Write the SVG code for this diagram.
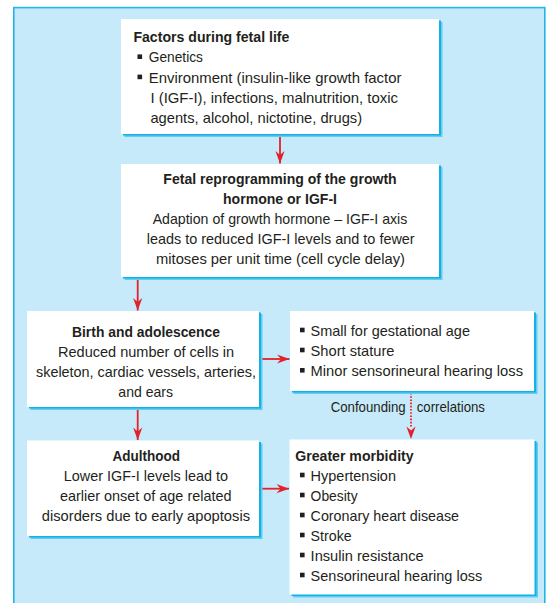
<svg xmlns="http://www.w3.org/2000/svg" width="546" height="603" viewBox="0 0 546 603">
<defs>
<style>
.t{font-family:"Liberation Sans",Arial,Helvetica,sans-serif;font-size:15px;fill:#231f20}
.b{font-weight:bold}
.c{text-anchor:middle}
.box{fill:#fff}
.sh1{fill:#62ccf1}
.sh2{fill:#12b2e8}
.bul{fill:#231f20}
.ln{stroke:#e5202b;stroke-width:1.8;fill:none}
.dot{stroke:#e5202b;stroke-width:1.8;fill:none;stroke-dasharray:1.6 1.6}
</style>
<marker id="ah" markerUnits="userSpaceOnUse" markerWidth="16" markerHeight="12" viewBox="-13 -6 14 12" refX="0" refY="0" orient="auto">
<path d="M0,0 L-12.5,-4.6 L-8.5,0 L-12.5,4.6 Z" fill="#e5202b"/>
</marker>
</defs>
<rect x="13.8" y="7.6" width="531" height="620" fill="#c6eaf9" stroke="#22b5e8" stroke-width="1.6"/>

<g id="connectors">
<line class="ln" x1="280" y1="134" x2="280" y2="163.5" marker-end="url(#ah)"/>
<line class="ln" x1="137.7" y1="280" x2="137.7" y2="310.5" marker-end="url(#ah)"/>
<line class="ln" x1="259.5" y1="359" x2="289.5" y2="359" marker-end="url(#ah)"/>
<line class="ln" x1="137.7" y1="409" x2="137.7" y2="440" marker-end="url(#ah)"/>
<line class="ln" x1="259.5" y1="488.7" x2="289" y2="488.7" marker-end="url(#ah)"/>
<line class="dot" x1="411" y1="393" x2="411" y2="428"/>
<path d="M411,439 L406.4,426.5 L411,430.5 L415.6,426.5 Z" fill="#e5202b"/>
<text class="t" x="330.7" y="412.3" textLength="75" lengthAdjust="spacingAndGlyphs">Confounding</text>
<text class="t" x="416.7" y="412.3" textLength="68.3" lengthAdjust="spacingAndGlyphs">correlations</text>
</g>

<g id="fetal-factors">
<rect class="sh1" x="124.5" y="22" width="318" height="115"/>
<rect class="sh2" x="123" y="20.5" width="318" height="115"/>
<rect class="box" x="121" y="19" width="318" height="115"/>
<text class="t b" x="133.4" y="41.5" textLength="156" lengthAdjust="spacingAndGlyphs">Factors during fetal life</text>
<rect class="bul" x="137.5" y="54.4" width="4.6" height="4.6"/>
<text class="t" x="148.7" y="62" textLength="54.3" lengthAdjust="spacingAndGlyphs">Genetics</text>
<rect class="bul" x="137.5" y="74.6" width="4.6" height="4.6"/>
<text class="t" x="148.7" y="82.7" textLength="252.8" lengthAdjust="spacingAndGlyphs">Environment (insulin-like growth factor</text>
<text class="t" x="150.4" y="102.7" textLength="247.6" lengthAdjust="spacingAndGlyphs">I (IGF-I), infections, malnutrition, toxic</text>
<text class="t" x="150.4" y="122.7" textLength="211.7" lengthAdjust="spacingAndGlyphs">agents, alcohol, nictotine, drugs)</text>
</g>

<g id="reprogramming">
<rect class="sh1" x="124.5" y="167" width="318" height="113"/>
<rect class="sh2" x="123" y="165.5" width="318" height="113"/>
<rect class="box" x="121" y="164" width="318" height="113"/>
<text class="t b c" x="280" y="184.3" textLength="233.3" lengthAdjust="spacingAndGlyphs">Fetal reprogramming of the growth</text>
<text class="t b c" x="280" y="204" textLength="114" lengthAdjust="spacingAndGlyphs">hormone or IGF-I</text>
<text class="t c" x="280" y="224.2" textLength="254.7" lengthAdjust="spacingAndGlyphs">Adaption of growth hormone – IGF-I axis</text>
<text class="t c" x="280.7" y="244.2" textLength="268" lengthAdjust="spacingAndGlyphs">leads to reduced IGF-I levels and to fewer</text>
<text class="t c" x="280.5" y="264" textLength="249" lengthAdjust="spacingAndGlyphs">mitoses per unit time (cell cycle delay)</text>
</g>

<g id="birth">
<rect class="sh1" x="30.5" y="314" width="232" height="96"/>
<rect class="sh2" x="29" y="312.5" width="232" height="96"/>
<rect class="box" x="27" y="311" width="232" height="96"/>
<text class="t b c" x="146" y="336.7" textLength="148" lengthAdjust="spacingAndGlyphs">Birth and adolescence</text>
<text class="t c" x="146" y="356.7" textLength="176" lengthAdjust="spacingAndGlyphs">Reduced number of cells in</text>
<text class="t c" x="146" y="376.7" textLength="220" lengthAdjust="spacingAndGlyphs">skeleton, cardiac vessels, arteries,</text>
<text class="t c" x="145.7" y="397" textLength="54.7" lengthAdjust="spacingAndGlyphs">and ears</text>
</g>

<g id="early-outcomes">
<rect class="sh1" x="293.5" y="314" width="244" height="80"/>
<rect class="sh2" x="292" y="312.5" width="244" height="80"/>
<rect class="box" x="290" y="311" width="244" height="80"/>
<rect class="bul" x="300" y="327.7" width="4.6" height="4.6"/>
<text class="t" x="310.6" y="335.7" textLength="159.4" lengthAdjust="spacingAndGlyphs">Small for gestational age</text>
<rect class="bul" x="300" y="347.7" width="4.6" height="4.6"/>
<text class="t" x="310.6" y="355.7" textLength="83.9" lengthAdjust="spacingAndGlyphs">Short stature</text>
<rect class="bul" x="300" y="368" width="4.6" height="4.6"/>
<text class="t" x="310.6" y="376" textLength="212.4" lengthAdjust="spacingAndGlyphs">Minor sensorineural hearing loss</text>
</g>

<g id="adulthood">
<rect class="sh1" x="30.5" y="443.5" width="232" height="95.5"/>
<rect class="sh2" x="29" y="442" width="232" height="95.5"/>
<rect class="box" x="27" y="440.5" width="232" height="95.5"/>
<text class="t b c" x="146.3" y="460.7" textLength="67.5" lengthAdjust="spacingAndGlyphs">Adulthood</text>
<text class="t c" x="145.9" y="480.7" textLength="164.3" lengthAdjust="spacingAndGlyphs">Lower IGF-I levels lead to</text>
<text class="t c" x="145.7" y="500.7" textLength="171.6" lengthAdjust="spacingAndGlyphs">earlier onset of age related</text>
<text class="t c" x="145.9" y="520.7" textLength="208.2" lengthAdjust="spacingAndGlyphs">disorders due to early apoptosis</text>
</g>

<g id="morbidity">
<rect class="sh1" x="293" y="442.5" width="245" height="155"/>
<rect class="sh2" x="291.5" y="441" width="245" height="155"/>
<rect class="box" x="289.5" y="439.5" width="245" height="155"/>
<text class="t b" x="295.3" y="460.7" textLength="118.3" lengthAdjust="spacingAndGlyphs">Greater morbidity</text>
<rect class="bul" x="300" y="472.7" width="4.6" height="4.6"/>
<text class="t" x="310.6" y="480.7" textLength="85.4" lengthAdjust="spacingAndGlyphs">Hypertension</text>
<rect class="bul" x="300" y="492.7" width="4.6" height="4.6"/>
<text class="t" x="310.6" y="500.7" textLength="47" lengthAdjust="spacingAndGlyphs">Obesity</text>
<rect class="bul" x="300" y="512.7" width="4.6" height="4.6"/>
<text class="t" x="310.6" y="520.7" textLength="148.4" lengthAdjust="spacingAndGlyphs">Coronary heart disease</text>
<rect class="bul" x="300" y="532.7" width="4.6" height="4.6"/>
<text class="t" x="310.6" y="540.7" textLength="41.1" lengthAdjust="spacingAndGlyphs">Stroke</text>
<rect class="bul" x="300" y="552.7" width="4.6" height="4.6"/>
<text class="t" x="310.6" y="560.7" textLength="113.1" lengthAdjust="spacingAndGlyphs">Insulin resistance</text>
<rect class="bul" x="300" y="572.7" width="4.6" height="4.6"/>
<text class="t" x="310.6" y="580.7" textLength="171.6" lengthAdjust="spacingAndGlyphs">Sensorineural hearing loss</text>
</g>
</svg>
